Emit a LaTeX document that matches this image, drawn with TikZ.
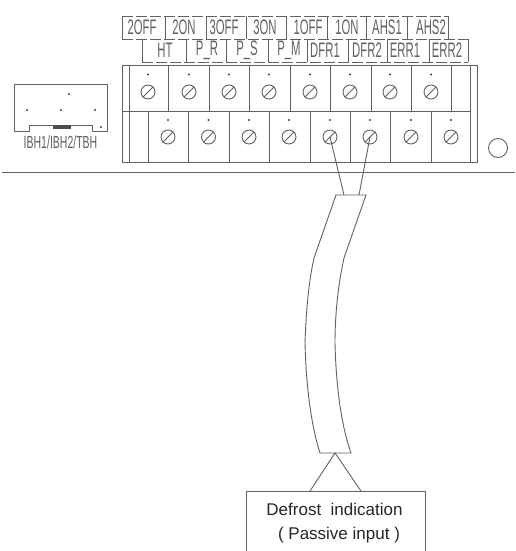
\documentclass[tikz,border=0pt]{standalone}
\usepackage{fontspec}
\setmainfont{Liberation Sans}
\newfontfamily\cadfont[FakeStretch=0.54]{Liberation Sans}
\newfontfamily\ibhfont[FakeStretch=0.6]{Liberation Sans}
\definecolor{linegray}{gray}{0.38}
\tikzset{
    part/.style={draw=linegray, line width=0.9pt},
    screw/.style={circle, part, inner sep=0pt, minimum size=14pt},
    pin/.style={circle, fill=black!75, inner sep=0pt, minimum size=2.4pt},
    tag/.style={font=\cadfont\fontsize{21}{21}\selectfont, text=black!62, inner sep=0pt},
    tagline/.style={part, dash pattern=on 11pt off 3pt},
}
\begin{document}
\begin{tikzpicture}[x=1pt, y=-1pt]
    \useasboundingbox (0,0) rectangle (515,551);
    \foreach \x/\t/\n in {142/2OFF/a1, 184/2ON/a2, 224/3OFF/a3, 265/3ON/a4, 308/1OFF/a5, 347/1ON/a6, 387/AHS1/a7, 431/AHS2/a8}
        \node[tag] (\n) at (\x,27.5) {\t};
    \foreach \x/\t/\n in {165/HT/b1, 207/P\_R/b2, 247/P\_S/b3, 289/P\_M/b4, 325/DFR1/b5, 367/DFR2/b6, 405/ERR1/b7, 447/ERR2/b8}
        \node[tag] (\n) at (\x,50.5) {\t};
    \draw[tagline] (122,16) -- (448,16);
    \draw[tagline] (122,39) -- (468,39);
    \draw[tagline] (142,62) -- (468,62);
    \foreach \x in {122,165,206,246,286.5,327,366,407,448}
        \draw[part] (\x,16) -- (\x,39);
    \foreach \x in {142,186,226,268,307,348,387,429,468}
        \draw[part] (\x,39) -- (\x,62);

    \draw[part] (122,65.5) rectangle (477,162);
    \draw[part] (122,111) -- (470,111);
    \draw[part] (129,65.5) -- (129,162);
    \draw[part] (470,65.5) -- (470,162);
    \foreach \x in {168,209,249,290,330,371,411,451}
        \draw[part] (\x,65.5) -- (\x,111);
    \foreach \x in {148,188,229,269,310,350,390,431}
        \draw[part] (\x,111) -- (\x,162);
    \foreach \x [count=\i] in {148,189,229,269,310,350,390,431} {
        \node[screw] (t\i) at (\x,92) {};
        \node[pin] (tp\i) at (\x,74.5) {};
        \draw[part] (t\i.south west) -- (t\i.north east);
    }
    \foreach \x [count=\i] in {168,208.5,249,289,330,370,411,451} {
        \node[screw] (s\i) at (\x,137) {};
        \node[pin] (sp\i) at (\x,120) {};
        \draw[part] (s\i.south west) -- (s\i.north east);
    }

    \draw[part] (14,84) -- (107.5,84) -- (107.5,131) -- (92,131) -- (92,125) -- (29,125) -- (29,131) -- (14,131) -- cycle;
    \fill[black!70] (53,125) rectangle (71,128.5);
    \node[pin] (p1) at (69,94) {};
    \node[pin] (p2) at (27,110) {};
    \node[pin] (p3) at (61,110) {};
    \node[pin] (p4) at (95,110) {};
    \node[pin] (p5) at (101,127) {};
    \node[tag, font=\ibhfont\fontsize{17.5}{18}\selectfont] (ibh) at (60.5,142) {IBH1/IBH2/TBH};

    \draw[part] (2,172) -- (515,172);
    \node[circle, part, inner sep=0pt, minimum size=19pt] (lamp) at (498,148) {};

    \coordinate (w1) at (344,195);
    \coordinate (w2) at (359,195);
    \draw[part] (s5.center) -- (w1);
    \draw[part] (s6.center) -- (w2);

    \draw[part, fill=white] (336,195) -- (366,195) -- (344,258)
        .. controls (338,285) and (335,315) .. (335,343)
        .. controls (336,385) and (341,425) .. (351,453) -- (320,453)
        .. controls (311,425) and (306,385) .. (305,343)
        .. controls (306,315) and (308,285) .. (314,258) -- cycle;

    \node[draw=linegray, line width=0.9pt, minimum width=179pt, minimum height=64pt, inner sep=0pt,
        align=center, font=\fontsize{17}{24}\selectfont, text=black!85] (defrost) at (335.5,523)
        {\hspace*{-2pt}Defrost\ \ indication\\\hspace*{7pt}( Passive input )};
    \coordinate (apex) at (335,453);
    \coordinate (d1) at (310,491);
    \coordinate (d2) at (361,491);
    \draw[part] (d1) -- (apex) -- (d2);
\end{tikzpicture}
\end{document}
